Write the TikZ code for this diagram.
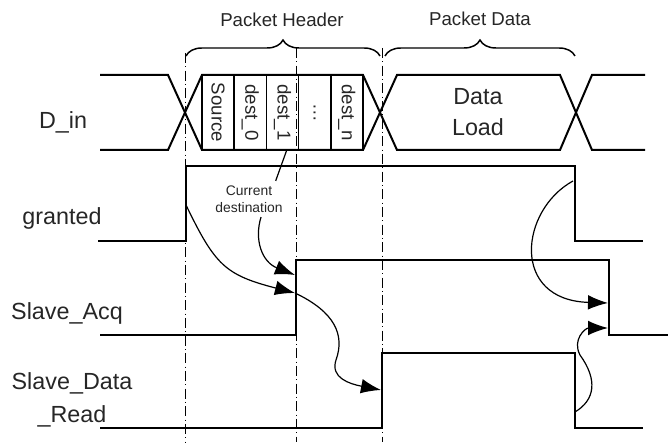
\documentclass[tikz,border=0pt]{standalone}
\usepackage{fontspec}
\setmainfont{Liberation Sans}
\usetikzlibrary{arrows.meta,decorations.pathreplacing}

\begin{document}
\begin{tikzpicture}[x=0.75pt, y=-0.75pt,
    wave/.style={line width=1.5pt},
    guide/.style={line width=0.75pt, dash pattern=on 7.5pt off 2.5pt on 0.75pt off 2.5pt},
    hint/.style={line width=0.9pt},
    cause/.style={hint, -{Latex[length=15pt,width=11pt]}},
    bracket/.style={decorate, decoration={brace, amplitude=12pt}, line width=1.1pt},
    cell/.style={draw, line width=1.2pt, rotate=-90, minimum width=56.25pt, minimum height=24.15pt, inner sep=0pt, font=\fontsize{14}{16}\selectfont, text=black!85},
    sig label/.style={align=center, font=\fontsize{17.5}{25}\selectfont, text=black!85},
    head label/.style={font=\fontsize{14}{16}\selectfont, text=black!85},
    note/.style={align=center, font=\fontsize{10.4}{12.75}\selectfont, text=black!85}]
    \useasboundingbox (0,0) rectangle (669,445);
    % signal names
    \node[sig label] (din) at (63,122) {D\_in};
    \node[sig label] (gnt) at (62,218) {granted};
    \node[sig label] (acq) at (67,313) {Slave\_Acq};
    \node[sig label] (rd) at (72,400) {Slave\_Data\\\_Read};
    % header fields
    \foreach \txt [count=\i] in {Source, dest\_0, dest\_1, {\ldots}, dest\_n}
        \node[cell] (c\i) at ({202+32.2*\i-16.1},112.5) {\txt};
    \node[sig label, font=\fontsize{17.5}{23}\selectfont] (load) at (478,112) {Data\\Load};
    % waveforms
    \draw[wave] (100,75) -- (168,75) -- (202,150) -- (363,150) -- (397,75) -- (560,75) -- (592,150) -- (645,150);
    \draw[wave] (100,150) -- (168,150) -- (202,75) -- (363,75) -- (397,150) -- (560,150) -- (592,75) -- (645,75);
    \draw[wave] (98,241) -- (186,241) -- (186,166) -- (575,166) -- (575,241) -- (643,241);
    \draw[wave] (100,335) -- (296,335) -- (296,260) -- (609,260) -- (609,335) -- (668,335);
    \draw[wave] (100,428) -- (382,428) -- (382,353) -- (575,353) -- (575,428) -- (643,428);
    % phase guides
    \draw[guide] (185,53) -- (185,442);
    \draw[guide] (296,48) -- (296,442);
    \draw[guide] (382,48) -- (382,442);
    % braces
    \draw[bracket] (186,56) -- (380,56);
    \draw[bracket] (385,56) -- (575,56);
    \node[head label] (hdr) at (282,20) {Packet Header};
    \node[head label] (dat) at (480,19) {Packet Data};
    % causality
    \node[note] (cur) at (249,199) {Current\\destination};
    \coordinate (gntUp) at (186,205);
    \coordinate (gntDn) at (573,181);
    \coordinate (acqUp1) at (295,275);
    \coordinate (acqUp2) at (295,293);
    \coordinate (acqDn1) at (608,303);
    \coordinate (acqDn2) at (608,328);
    \coordinate (rdUp) at (381,390);
    \coordinate (rdDn) at (575,412);
    \draw[hint] ([xshift=3pt]c3.east) -- ([xshift=20pt]cur.north);
    \draw[cause] ([xshift=9pt]cur.south) .. controls (254,240) and (262,262) .. (acqUp1);
    \draw[cause] (gntUp) .. controls (215,265) and (225,275) .. (acqUp2);
    \draw[cause] (acqUp2) .. controls (335,312) and (345,335) .. (336,360) .. controls (330,378) and (350,384) .. (rdUp);
    \draw[cause] (gntDn) .. controls (520,210) and (510,300) .. (acqDn1);
    \draw[cause] (rdDn) .. controls (595,400) and (598,380) .. (580,355) .. controls (572,340) and (585,328) .. (acqDn2);
\end{tikzpicture}
\end{document}
